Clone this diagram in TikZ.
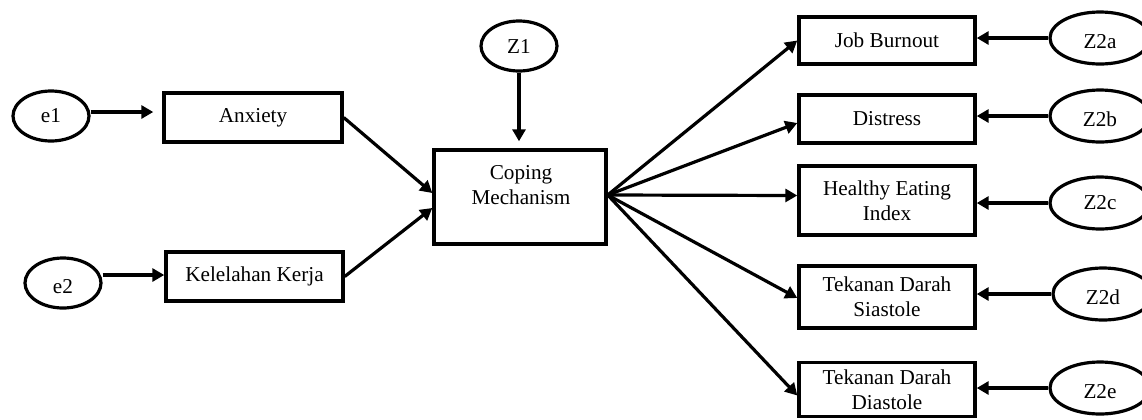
\documentclass[tikz,border=0pt]{standalone}
\usepackage{fontspec}
\setmainfont{Liberation Serif}
\usetikzlibrary{shapes.geometric,arrows.meta}
\newcommand{\lowtxt}[1]{\raisebox{-1.8pt}[\height][\depth]{#1}}
\begin{document}
\begin{tikzpicture}[x=0.5pt,y=-0.5pt,
  font=\fontsize{10.6}{12.5}\selectfont,
  box/.style={draw,line width=1.7pt,rectangle,inner sep=0pt,minimum width=88pt,align=center},
  lat/.style={draw,line width=1.6pt,ellipse,inner sep=0pt,minimum width=38pt,minimum height=25pt},
  latr/.style={lat,minimum width=50pt,minimum height=26pt},
  arr/.style={line width=1.6pt,-{Triangle[length=6pt,width=6.5pt]}}]
\useasboundingbox (0,0) rectangle (1142,419);
\begin{scope}
\clip (0,0) rectangle (1142,419);
% left
\node[lat] (e1) at (51,116) {e1};
\node[lat] (e2) at (63,283) {\lowtxt{e2}};
\node[box,minimum width=89pt,minimum height=24.5pt] (an) at (253,117.5) {Anxiety};
\node[box,minimum width=88.5pt,minimum height=24.5pt] (kk) at (254.5,276.5) {Kelelahan Kerja};
% center
\node[lat] (z1) at (519,46) {Z1};
\node[box,minimum width=86pt,minimum height=47pt] (cop) at (520,197) {};
\node[align=center,inner sep=0pt] (coptext) at (521,185) {Coping\\Mechanism};
% right boxes
\node[box,minimum height=23.5pt] (jb) at (887,40.5) {Job Burnout};
\node[box,minimum height=24pt] (ds) at (887,119) {Distress};
\node[box,minimum height=34.5pt] (hei) at (887,200.5) {Healthy Eating\\Index};
\node[box,minimum height=31pt] (tds) at (887,297) {Tekanan Darah\\Siastole};
\node[box,minimum height=27pt] (tdd) at (887,389.5) {Tekanan Darah\\Diastole};
% right latents
\node[latr] (z2a) at (1100,38) {\lowtxt{Z2a}};
\node[latr] (z2b) at (1100,116) {\lowtxt{Z2b}};
\node[latr] (z2c) at (1100,203) {Z2c};
\node[latr] (z2d) at (1103,294) {\lowtxt{Z2d}};
\node[latr] (z2e) at (1100,388) {\lowtxt{Z2e}};
\end{scope}
% arrows left
\draw[arr,shorten >=4.5pt] ([yshift=2pt]e1.east) -- ([yshift=2pt]e1.east -| an.west);
\draw[arr] ([yshift=4pt]e2.east) -- ([yshift=4pt]e2.east -| kk.west);
\draw[arr,shorten >=3.5pt] (z1.south) -- (z1.south |- cop.north);
\draw[arr] (an.east) -- ([yshift=2pt]cop.west);
\draw[arr] (kk.east) -- ([yshift=-5.5pt]cop.west);
% arrows right
\coordinate (fan) at ([yshift=1pt]cop.east);
\draw[arr] (fan) -- (jb.west);
\draw[arr] (fan) -- ([yshift=-2pt]ds.west);
\draw[arr] (fan) -- ([yshift=2.5pt]hei.west);
\draw[arr] (fan) -- ([yshift=-0.5pt]tds.west);
\draw[arr] (fan) -- ([yshift=-3pt]tdd.west);
% Z2 arrows
\draw[arr] (z2a.west) -- (z2a.west -| jb.east);
\draw[arr] (z2b.west) -- (z2b.west -| ds.east);
\draw[arr] (z2c.west) -- (z2c.west -| hei.east);
\draw[arr] (z2d.west) -- (z2d.west -| tds.east);
\draw[arr] (z2e.west) -- (z2e.west -| tdd.east);
\end{tikzpicture}
\end{document}
